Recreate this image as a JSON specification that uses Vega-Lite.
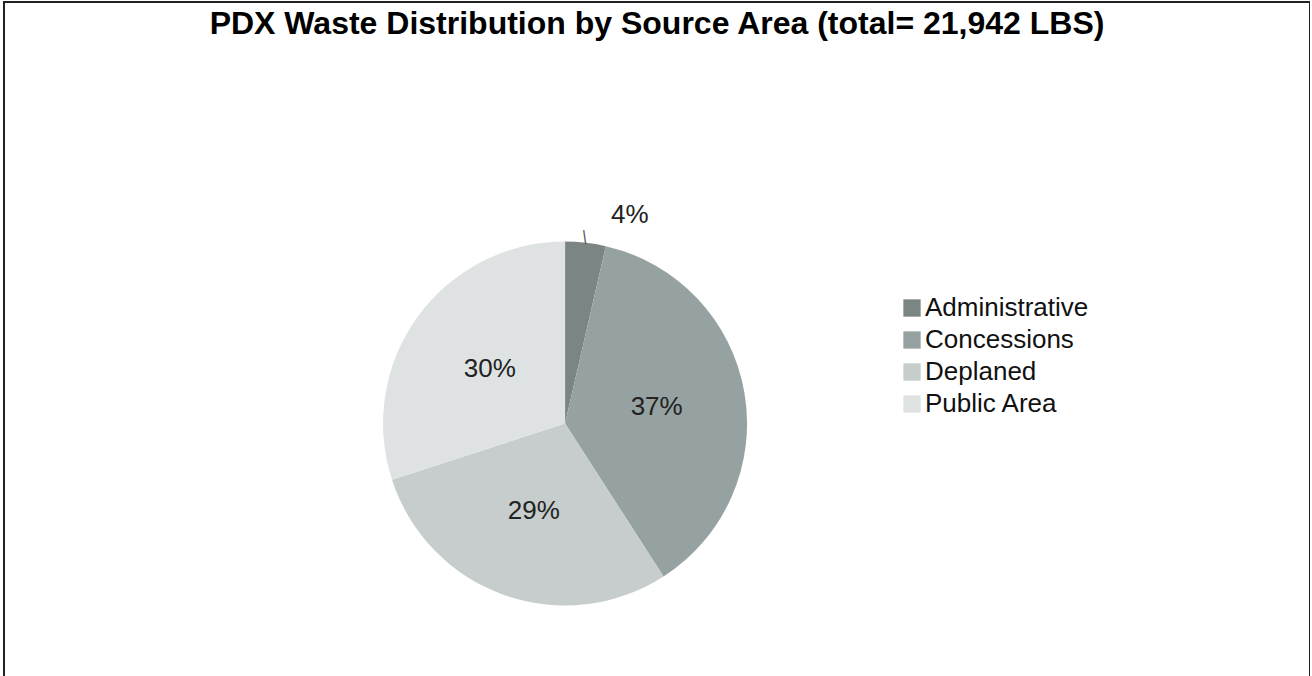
{
  "$schema": "https://vega.github.io/schema/vega-lite/v6.json",
  "autosize": {"type": "none"},
  "padding": {"left": 4, "top": 2, "right": 0, "bottom": 0},
  "width": 1306,
  "height": 720,
  "background": "white",
  "view": {"stroke": "#222222", "strokeWidth": 2, "fill": "white"},
  "config": {
    "font": "Liberation Sans"
  },
  "title": {
    "text": "PDX Waste Distribution by Source Area (total= 21,942 LBS)",
    "font": "Liberation Sans",
    "fontSize": 32,
    "fontWeight": "bold",
    "color": "#000000",
    "anchor": "middle",
    "frame": "group",
    "offset": -39
  },
  "data": {
    "values": [
      {"area": "Administrative", "lbs": 790, "label": "4%"},
      {"area": "Concessions", "lbs": 8184, "label": "37%"},
      {"area": "Deplaned", "lbs": 6385, "label": "29%"},
      {"area": "Public Area", "lbs": 6583, "label": "30%"}
    ]
  },
  "encoding": {
    "theta": {"field": "lbs", "type": "quantitative", "stack": true},
    "order": {"field": "area", "sort": "ascending"}
  },
  "layer": [
    {
      "mark": {"type": "arc", "outerRadius": 182, "x": {"expr": "width*0.4296"}, "y": {"expr": "height*0.5854"}, "stroke": null},
      "encoding": {
        "color": {
          "field": "area",
          "type": "nominal",
          "scale": {
            "domain": ["Administrative", "Concessions", "Deplaned", "Public Area"],
            "range": ["#7b8684", "#96a2a1", "#c6cdcc", "#dfe2e3"]
          },
          "legend": {
            "title": null,
            "orient": "none",
            "legendX": 895,
            "legendY": 293,
            "symbolType": "square",
            "symbolSize": 300,
            "symbolStrokeWidth": 0,
            "labelFont": "Liberation Sans",
            "labelFontSize": 26,
            "labelColor": "#111111",
            "labelOffset": 0,
            "labelLimit": 400,
            "rowPadding": 6
          }
        }
      }
    },
    {
      "mark": {"type": "text", "radius": 93, "x": {"expr": "width*0.4296"}, "y": {"expr": "height*0.5854"}, "fontSize": 26, "color": "#222222", "font": "Liberation Sans"},
      "encoding": {
        "text": {"condition": {"test": "datum.area == 'Administrative'", "value": ""}, "field": "label"}
      }
    },
    {
      "mark": {"type": "text", "radius": 210, "dx": 41, "x": {"expr": "width*0.4296"}, "y": {"expr": "height*0.5854"}, "fontSize": 26, "color": "#222222", "font": "Liberation Sans"},
      "encoding": {
        "text": {"condition": {"test": "datum.area == 'Administrative'", "field": "label"}, "value": ""}
      }
    },
    {
      "mark": {"type": "text", "radius": 189, "dx": -2, "angle": -8, "x": {"expr": "width*0.4296"}, "y": {"expr": "height*0.5854"}, "fontSize": 15, "color": "#555555", "font": "Liberation Sans"},
      "encoding": {
        "text": {"condition": {"test": "datum.area == 'Administrative'", "value": "|"}, "value": ""}
      }
    }
  ]
}
